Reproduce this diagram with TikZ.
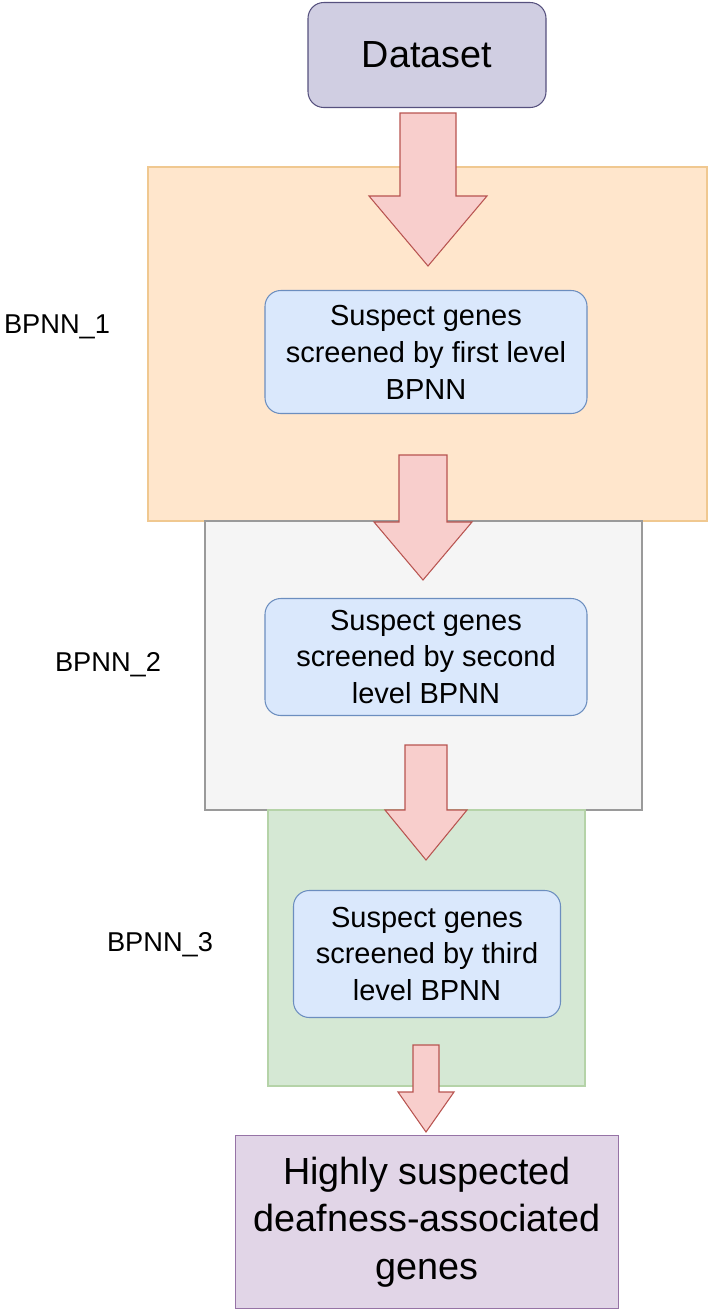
\documentclass[tikz,border=0pt]{standalone}
\usepackage{fontspec}
\setmainfont{Liberation Sans}
\definecolor{dsfill}{HTML}{D0CEE2}\definecolor{dsline}{HTML}{56517E}
\definecolor{orfill}{HTML}{FFE6CC}\definecolor{orline}{HTML}{F0C890}
\definecolor{gyfill}{HTML}{F5F5F5}\definecolor{gyline}{HTML}{9A9A9A}
\definecolor{grfill}{HTML}{D5E8D4}\definecolor{grline}{HTML}{B5D3A8}
\definecolor{blfill}{HTML}{DAE8FC}\definecolor{blline}{HTML}{6C8EBF}
\definecolor{pufill}{HTML}{E1D5E7}\definecolor{puline}{HTML}{9673A6}
\definecolor{arfill}{HTML}{F8CECC}\definecolor{arline}{HTML}{B85450}
\tikzset{
  panel/.style={draw=#1line,fill=#1fill,line width=0.6pt},
  screen/.style={draw=blline,fill=blfill,rounded corners=9pt,line width=0.6pt,
    align=center,font=\fontsize{16.5}{21}\selectfont},
  blockarrow/.style={draw=arline,fill=arfill,line width=0.6pt},
  lbl/.style={font=\fontsize{15.5}{18}\selectfont}
}
% block arrow: x-centre, top, bottom, half shaft, half head, head length
\newcommand\blockarrow[6]{%
  \draw[blockarrow] (#1-#4,#2) -- (#1+#4,#2) -- (#1+#4,#3-#6) -- (#1+#5,#3-#6)
    -- (#1,#3) -- (#1-#5,#3-#6) -- (#1-#4,#3-#6) -- cycle;}
\begin{document}
\begin{tikzpicture}[x=0.02cm,y=-0.02cm]
    \useasboundingbox (0,0) rectangle (708,1312);
    % Panels
    \draw[panel=or] (148,167) rectangle (707,521);
    \draw[panel=gy] (205,521) rectangle (642,810);
    \draw[panel=gr] (268,810) rectangle (585,1086);

    % Boxes
    \node[draw=dsline,fill=dsfill,rounded corners=9pt,line width=0.6pt,
        minimum width=238*0.02cm,minimum height=105*0.02cm,
        font=\fontsize{21.5}{26}\selectfont] (dataset) at (427,55) {Dataset};
    \node[screen,minimum width=322*0.02cm,minimum height=123*0.02cm] (first) at (426,352)
        {Suspect genes\\screened by first level\\BPNN};
    \node[screen,minimum width=322*0.02cm,minimum height=117*0.02cm] (second) at (426,657)
        {Suspect genes\\screened by second\\level BPNN};
    \node[screen,minimum width=267*0.02cm,minimum height=127*0.02cm] (third) at (427,954)
        {Suspect genes\\screened by third\\level BPNN};
    \node[draw=puline,fill=pufill,line width=1pt,align=center,
        minimum width=383*0.02cm,minimum height=173*0.02cm,
        font=\fontsize{21.5}{27}\selectfont] (result) at (427,1222)
        {Highly suspected\\deafness-associated\\genes};

    % Arrows
    \blockarrow{428}{113}{266}{28}{59}{70}
    \blockarrow{423}{455}{580}{24}{49}{58}
    \blockarrow{426}{745}{860}{21}{41}{50}
    \blockarrow{426}{1045}{1132}{13}{28}{40}

    % Labels
    \node[lbl] (bpnn1) at (57,327) {BPNN\_1};
    \node[lbl] (bpnn2) at (108,665) {BPNN\_2};
    \node[lbl] (bpnn3) at (160,945) {BPNN\_3};
\end{tikzpicture}
\end{document}
